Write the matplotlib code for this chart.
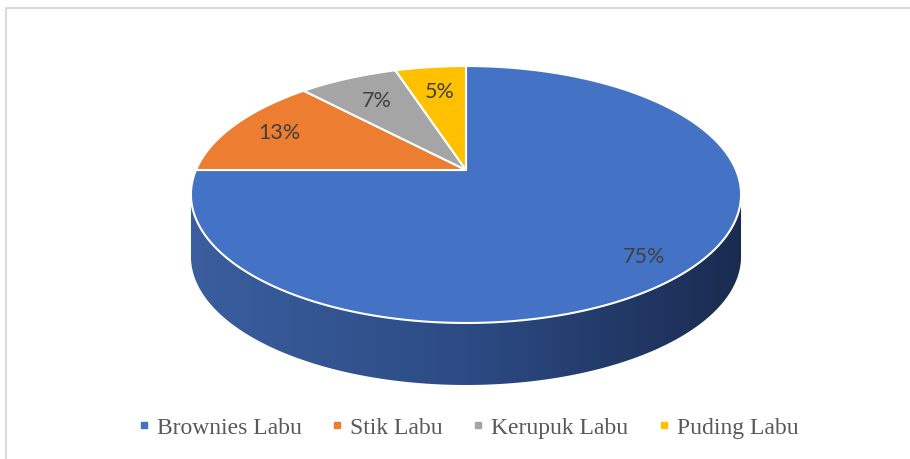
import numpy as np
import matplotlib
matplotlib.use('Agg')
import matplotlib.pyplot as plt
from matplotlib.patches import Polygon
from matplotlib.lines import Line2D
from matplotlib.colors import LinearSegmentedColormap

# data
categories = ['Brownies Labu', 'Stik Labu', 'Kerupuk Labu', 'Puding Labu']
values = [75, 13, 7, 5]
colors = ['#4472C4', '#ED7D31', '#A5A5A5', '#FFC000']

# geometry of the tilted disc (pixels)
cx, cy = 466, 170      # apex of the pie
sx, sy = 270, 123.8    # horizontal / vertical scale
k = 0.1907             # perspective strength
depth = 62             # thickness of the side wall
label_r = [0.85, 0.80, 0.73, 0.72]
label_shift = [-2, 0, 0, 0]   # degrees, nudges label off the mid angle

def proj(u, v):
    d = 1 + k * v
    return cx + sx * u / d, cy - sy * v / d

fig = plt.figure(figsize=(9.1, 4.59), dpi=100)
ax = fig.add_axes([0, 0, 1, 1])
ax.set_xlim(0, 910)
ax.set_ylim(459, 0)
ax.axis('off')

# chart border (only top and left visible)
ax.plot([6, 6, 910], [459, 8, 8], color='#D9D9D9', lw=1.5, zorder=1)

# side wall
t = np.linspace(0, 2 * np.pi, 1441)
ex, ey = proj(np.cos(t), np.sin(t))
i_l = np.argmin(ex)
i_r = np.argmax(ex)
idx = np.arange(i_l, i_r + 1)  # lower arc from leftmost to rightmost
ax_arc = ex[idx]
ay_arc = ey[idx]
wall = np.vstack([np.column_stack([ax_arc, ay_arc]),
                  np.column_stack([ax_arc[::-1], ay_arc[::-1] + depth])])
wall_patch = Polygon(wall, closed=True, facecolor='none', edgecolor='none', zorder=2)
ax.add_patch(wall_patch)
cmap = LinearSegmentedColormap.from_list('wall', ['#3A5E9E', '#2C4B84', '#1B2B50'])
grad = np.linspace(0, 1, 256).reshape(1, -1)
im = ax.imshow(grad, cmap=cmap, extent=[ex.min(), ex.max(), ey.max() + depth, cy],
               aspect='auto', zorder=2)
im.set_clip_path(wall_patch)
ax.set_xlim(0, 910)
ax.set_ylim(459, 0)

# top face wedges, clockwise from 12 o'clock
start = 90.0
for val, col, lr, sh in zip(values, colors, label_r, label_shift):
    sweep = 360.0 * val / sum(values)
    a = np.radians(np.linspace(start, start - sweep, 300))
    px, py = proj(np.cos(a), np.sin(a))
    pts = np.column_stack([np.r_[cx, px], np.r_[cy, py]])
    ax.add_patch(Polygon(pts, closed=True, facecolor=col, edgecolor='white',
                         lw=1.5, joinstyle='round', zorder=3))
    mid = np.radians(start - sweep / 2 + sh)
    lx, ly = proj(lr * np.cos(mid), lr * np.sin(mid))
    ax.text(lx, ly, '%d%%' % val, ha='center', va='center', fontsize=15.5,
            family=['Lato', 'DejaVu Sans'], color='#404040', zorder=4)
    start -= sweep

# legend
handles = [Line2D([], [], marker='s', ls='none', markersize=5, color=c) for c in colors]
leg = fig.legend(handles, categories, loc='center', bbox_to_anchor=(468 / 910, 1 - 428 / 459),
                 ncol=4, frameon=False, handlelength=0.5, handletextpad=0.3,
                 columnspacing=1.25, prop={'family': 'Liberation Serif', 'size': 17})
for txt in leg.get_texts():
    txt.set_color('#595959')

fig.savefig('out.png', dpi=100)
